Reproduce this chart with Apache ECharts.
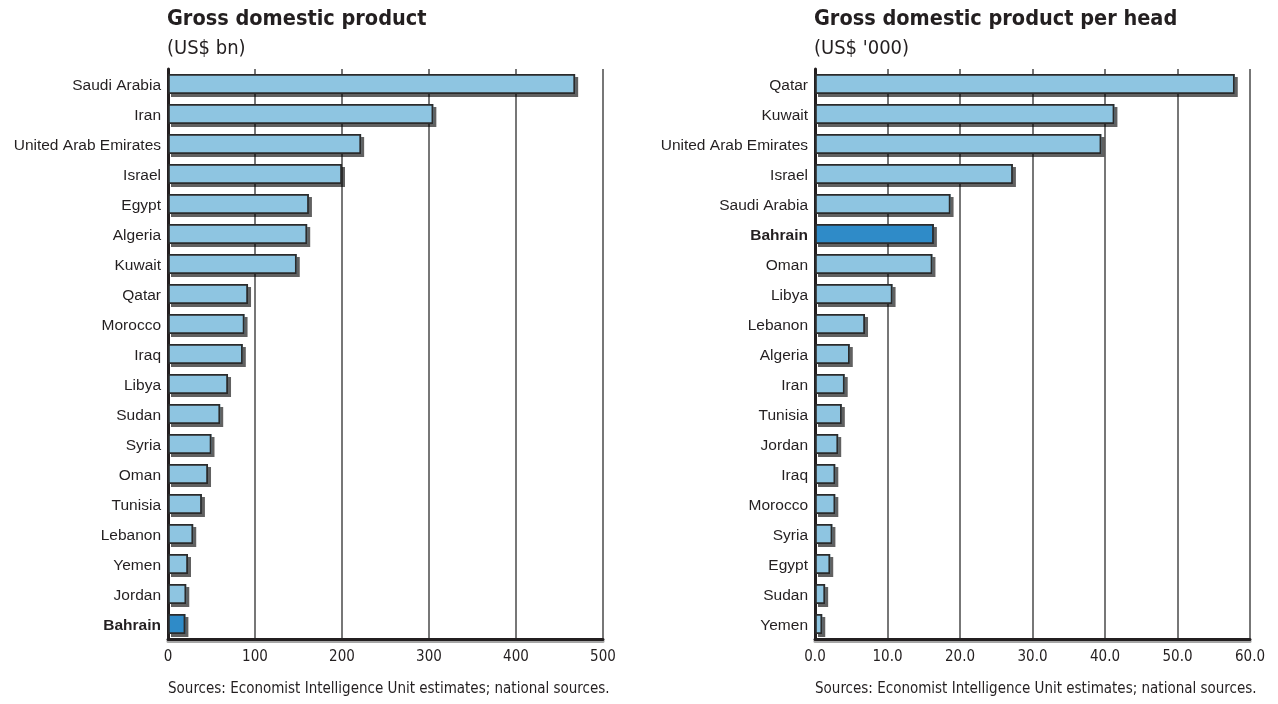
<!DOCTYPE html>
<html>
<head>
<meta charset="utf-8">
<script src="https://cdn.jsdelivr.net/npm/echarts@6/dist/echarts.min.js"></script>
<style>
  html, body { margin: 0; padding: 0; background: #fff; }
  #main { width: 1278px; height: 704px; }
</style>
</head>
<body>
<div id="main"></div>
<script>
// left panel: GDP, US$ bn
const gdpNames = ['Saudi Arabia', 'Iran', 'United Arab Emirates', 'Israel', 'Egypt', 'Algeria', 'Kuwait', 'Qatar', 'Morocco', 'Iraq', 'Libya', 'Sudan', 'Syria', 'Oman', 'Tunisia', 'Lebanon', 'Yemen', 'Jordan', 'Bahrain']
const gdpValues = [468, 305, 222, 200, 162, 160, 148, 92, 88, 86, 69, 60, 50, 46, 39, 29, 23, 21, 20]
const gdpTicks = [0, 100, 200, 300, 400, 500]

// right panel: GDP per head, US$ '000
const perHeadNames = ['Qatar', 'Kuwait', 'United Arab Emirates', 'Israel', 'Saudi Arabia', 'Bahrain', 'Oman', 'Libya', 'Lebanon', 'Algeria', 'Iran', 'Tunisia', 'Jordan', 'Iraq', 'Morocco', 'Syria', 'Egypt', 'Sudan', 'Yemen']
const perHeadValues = [57.9, 41.3, 39.5, 27.3, 18.7, 16.4, 16.2, 10.7, 6.9, 4.8, 4.1, 3.7, 3.2, 2.8, 2.8, 2.4, 2.1, 1.4, 1.0]
const perHeadTicks = [0, 10, 20, 30, 40, 50, 60]

const highlight = 'Bahrain'
const narrow = "'DejaVu Sans Condensed', 'Liberation Sans Narrow', sans-serif"
const plain = "'Liberation Sans', Arial, sans-serif"
const ink = '#231f20'
const barBlue = '#8ec5e1'
const barDark = '#2f8bc8'

const chart = echarts.init(document.getElementById('main'))

// bar data, Bahrain gets the darker blue
function barData(names, values) {
  return values.map((v, i) => {
    if (names[i] === highlight) {
      return { value: v, itemStyle: { color: barDark } }
    }
    return v
  })
}

function makeX(gridIndex, ticks, fmt) {
  return {
    type: 'value',
    gridIndex: gridIndex,
    min: ticks[0],
    max: ticks[ticks.length - 1],
    interval: ticks[1] - ticks[0],
    axisLine: {
      show: true,
      lineStyle: { color: ink, width: 3, shadowColor: 'rgba(0,0,0,0.35)', shadowOffsetY: 2 }
    },
    axisTick: { show: false },
    axisLabel: {
      margin: 11,
      color: ink,
      fontFamily: narrow,
      fontSize: 15,
      formatter: fmt
    },
    splitLine: { show: true, lineStyle: { color: '#4a4a4a', width: 1.5 } }
  }
}

function makeY(gridIndex, names) {
  return {
    type: 'category',
    gridIndex: gridIndex,
    data: names,
    inverse: true,
    axisLine: { show: true, lineStyle: { color: ink, width: 3 } },
    axisTick: { show: false },
    axisLabel: {
      margin: 7,
      formatter: v => v === highlight ? '{b|' + v + '}' : '{n|' + v + '}',
      rich: {
        n: { color: ink, fontFamily: plain, fontSize: 15.5, padding: [3, 0, 0, 0] },
        b: { color: ink, fontFamily: plain, fontSize: 15.5, fontWeight: 'bold', padding: [3, 0, 0, 0] }
      }
    }
  }
}

// two series per panel drawn on top of each other: the lower one only casts the drop shadow,
// the upper one draws the fill and outline (so the shadow does not show inside the bar)
function makeSeries(idx, names, values) {
  return [{
    type: 'bar',
    xAxisIndex: idx,
    yAxisIndex: idx,
    barWidth: 20,
    barGap: '-100%',
    data: barData(names, values),
    itemStyle: {
      color: barBlue,
      shadowColor: 'rgba(0,0,0,0.62)',
      shadowOffsetX: 3,
      shadowOffsetY: 3,
      shadowBlur: 0
    },
    silent: true
  }, {
    type: 'bar',
    xAxisIndex: idx,
    yAxisIndex: idx,
    barWidth: 20,
    barGap: '-100%',
    data: barData(names, values),
    itemStyle: {
      color: barBlue,
      borderColor: '#2b2b2b',
      borderWidth: 1.8
    },
    silent: true
  }]
}

const titleStyle = { color: ink, fontFamily: narrow, fontSize: 21.5, fontWeight: 'bold' }
const subStyle = { color: ink, fontFamily: narrow, fontSize: 20, fontWeight: 'normal' }
const srcStyle = { color: ink, fontFamily: narrow, fontSize: 15, fontWeight: 'normal' }
const source = 'Sources: Economist Intelligence Unit estimates; national sources.'

chart.setOption({
  animation: false,
  title: [
    { text: 'Gross domestic product', left: 167, top: 8, padding: 0, textStyle: titleStyle },
    { text: '(US$ bn)', left: 167, top: 39, padding: 0, textStyle: subStyle },
    { text: 'Gross domestic product per head', left: 814, top: 8, padding: 0, textStyle: titleStyle },
    { text: "(US$ '000)", left: 814, top: 39, padding: 0, textStyle: subStyle },
    { text: source, left: 168, top: 682, padding: 0, textStyle: srcStyle },
    { text: source, left: 815, top: 682, padding: 0, textStyle: srcStyle }
  ],
  grid: [
    { left: 168, top: 69, width: 435, height: 570 },
    { left: 815, top: 69, width: 435, height: 570 }
  ],
  xAxis: [
    makeX(0, gdpTicks, v => String(v)),
    makeX(1, perHeadTicks, v => v.toFixed(1))
  ],
  yAxis: [
    makeY(0, gdpNames),
    makeY(1, perHeadNames)
  ],
  series: [
    ...makeSeries(0, gdpNames, gdpValues),
    ...makeSeries(1, perHeadNames, perHeadValues)
  ]
})
</script>
</body>
</html>
